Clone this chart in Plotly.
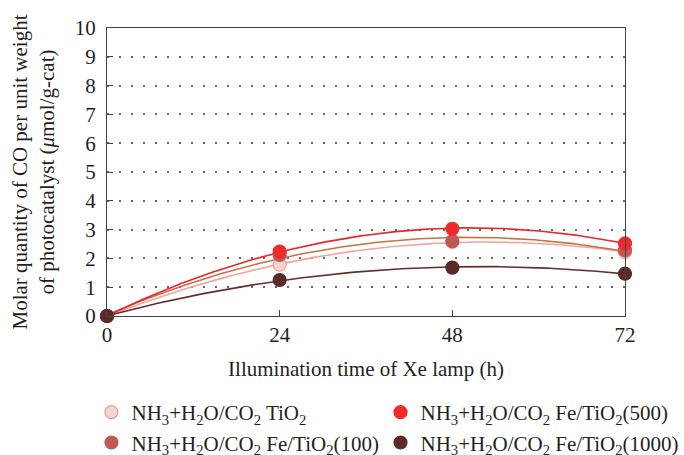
import numpy as np
import plotly.graph_objects as go

time_h = [0, 24, 48, 72]
series_names = [
    "NH<sub>3</sub>+H<sub>2</sub>O/CO<sub>2</sub> TiO<sub>2</sub>",
    "NH<sub>3</sub>+H<sub>2</sub>O/CO<sub>2</sub> Fe/TiO<sub>2</sub>(500)",
    "NH<sub>3</sub>+H<sub>2</sub>O/CO<sub>2</sub> Fe/TiO<sub>2</sub>(100)",
    "NH<sub>3</sub>+H<sub>2</sub>O/CO<sub>2</sub> Fe/TiO<sub>2</sub>(1000)",
]
tio2 = [0, 1.78, 2.57, 2.22]
fe500 = [0, 2.24, 3.03, 2.52]
fe100 = [0, 2.12, 2.60, 2.28]
fe1000 = [0, 1.25, 1.68, 1.47]
y_ticks = list(range(0, 11))
x_ticks = [0, 24, 48, 72]

series = [tio2, fe500, fe100, fe1000]
marker_fill = ["#f2d3cf", "#ee2a2a", "#c25753", "#5b2a26"]
marker_line = ["#dba3a0", "#ee2a2a", "#c25753", "#5b2a26"]
line_colors = ["#f4a3a3", "#e8262b", "#c9703e", "#5e3029"]
draw_order = [0, 2, 1, 3]
legend_of = {0: "legend", 2: "legend", 1: "legend2", 3: "legend2"}

FONT = "Liberation Serif"
FS = 21
TXT = "#231f20"
fig = go.Figure()

xs = np.linspace(0, 72, 200)
for i in draw_order:
    coef = np.polyfit(time_h, series[i], 2)
    fig.add_trace(go.Scatter(x=xs, y=np.polyval(coef, xs), mode="lines",
                             line=dict(color=line_colors[i], width=1.6),
                             showlegend=False, hoverinfo="skip", cliponaxis=False))
for i in draw_order:
    fig.add_trace(go.Scatter(x=time_h, y=series[i], mode="markers", name=series_names[i],
                             legend=legend_of[i], cliponaxis=False,
                             marker=dict(size=13, color=marker_fill[i],
                                         line=dict(color=marker_line[i], width=1.2))))

leg_common = dict(orientation="v", yanchor="top", y=-0.264, xanchor="left",
                  font=dict(family=FONT, size=FS, color=TXT), traceorder="normal",
                  tracegroupgap=0, bgcolor="rgba(0,0,0,0)", itemwidth=30)

fig.update_layout(
    width=684, height=455,
    margin=dict(l=107, r=59, t=28, b=139, autoexpand=False),
    paper_bgcolor="white", plot_bgcolor="white",
    font=dict(family=FONT, size=FS, color=TXT),
    showlegend=True,
    legend=dict(x=-0.03, **leg_common),
    legend2=dict(x=0.528, **leg_common),
    xaxis=dict(range=[0, 72], tickvals=x_ticks, ticks="inside", ticklen=6, tickcolor="#444",
               showline=True, linecolor="#444", linewidth=1.3, mirror=True,
               showgrid=False, zeroline=False,
               title=dict(text="Illumination time of Xe lamp (h)", standoff=14,
                          font=dict(family=FONT, size=FS))),
    yaxis=dict(range=[0, 10], tickvals=y_ticks, ticks="inside", ticklen=6, tickcolor="#444",
               showline=True, linecolor="#444", linewidth=1.3, mirror=True,
               showgrid=True, gridcolor="#666", griddash="1.5px,10.5px", gridwidth=1.5,
               zeroline=False, ticklabelstandoff=6,
               title=dict(text="Molar quantity of CO per unit weight<br>of photocatalyst (<i>μ</i>mol/g-cat)",
                          standoff=14, font=dict(family=FONT, size=FS))),
)
fig.write_html("out.html")
